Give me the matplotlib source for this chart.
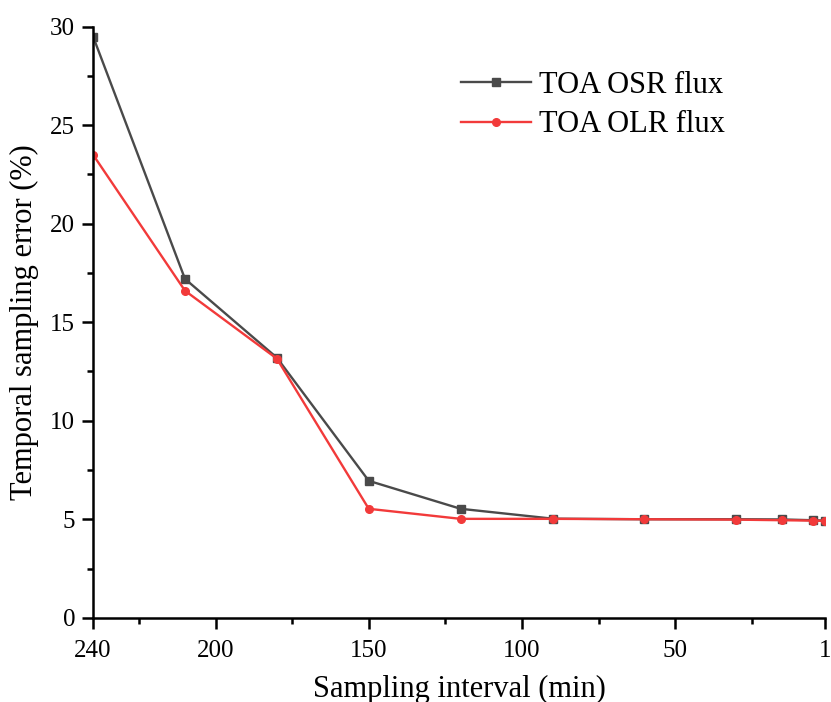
import matplotlib.pyplot as plt

# sampling interval (min) and temporal sampling error (%)
interval = [240, 210, 180, 150, 120, 90, 60, 30, 15, 5, 1]
osr_error = [29.5, 17.2, 13.2, 6.95, 5.53, 5.03, 5.0, 5.0, 4.99, 4.95, 4.93]
olr_error = [23.5, 16.6, 13.15, 5.53, 5.02, 5.02, 5.0, 4.98, 4.95, 4.93, 4.92]

plt.rcParams['font.family'] = ['Liberation Serif', 'DejaVu Serif']

fig = plt.figure(figsize=(8.31, 7.02), dpi=100)
ax = fig.add_axes([0.112, 0.12, 0.881, 0.842])

ax.plot(interval, osr_error, color='#4a4a4a', lw=1.7, marker='s', ms=5.5, label='TOA OSR flux')
ax.plot(interval, olr_error, color='#f23a3a', lw=1.7, marker='o', ms=5.5, label='TOA OLR flux')

ax.set_xlim(240, 1)
ax.set_ylim(0, 30)
ax.set_xticks([240, 200, 150, 100, 50, 1])
ax.set_xticks([225, 175, 125, 75, 25], minor=True)
ax.set_yticks([0, 5, 10, 15, 20, 25, 30])
ax.set_yticks([2.5, 7.5, 12.5, 17.5, 22.5, 27.5], minor=True)

for side in ['top', 'right']:
    ax.spines[side].set_visible(False)
for side in ['left', 'bottom']:
    ax.spines[side].set_linewidth(1.8)

ax.tick_params(which='major', length=8, width=1.8, labelsize=18)
ax.tick_params(axis='x', which='major', pad=8)
ax.tick_params(axis='y', which='major', pad=5)
ax.tick_params(which='minor', length=4, width=1.8)

ax.set_xlabel('Sampling interval (min)', fontsize=22, labelpad=9)
ax.set_ylabel('Temporal sampling error (%)', fontsize=22, labelpad=8)

ax.legend(loc='upper right', bbox_to_anchor=(0.9, 0.972), frameon=False, fontsize=22,
          handlelength=2.3, handletextpad=0.25, labelspacing=0.35)

fig.savefig('out.png', dpi=100)
